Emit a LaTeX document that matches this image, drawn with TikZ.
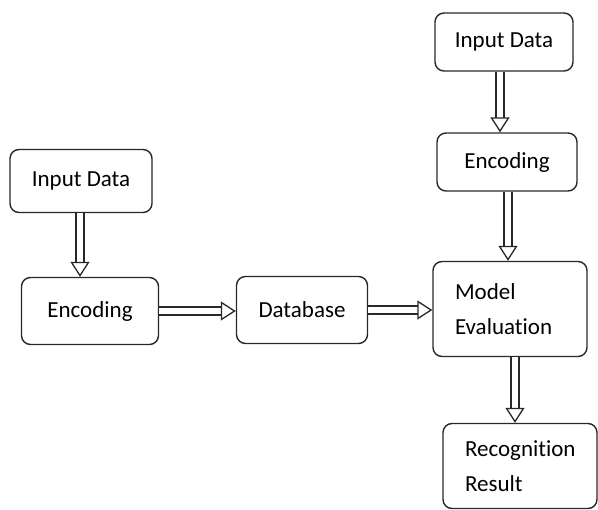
\documentclass[tikz,border=0pt]{standalone}
\usepackage{fontspec}
\setmainfont{Carlito}[Ligatures=NoCommon]
\usepackage{xcolor}
\usepackage{tikz}
\usetikzlibrary{arrows.meta, positioning, calc}
\definecolor{boxline}{RGB}{40,40,40}

\tikzset{
  stagebox/.style={draw=boxline, line width=1.4pt, rounded corners=9pt, fill=white,
    font=\fontsize{23}{35}\selectfont, inner sep=0pt},
  leftbox/.style={stagebox, align=left, text width=#1, inner xsep=22pt},
  harrow/.style={draw=boxline, line width=1.3pt, double=white, double distance=6.5pt,
    -{Triangle[open, length=15pt, width=19pt]}}
}

\begin{document}
\begin{tikzpicture}[x=1pt, y=-1pt]
        \useasboundingbox (0,0) rectangle (598,510);

        % Left branch
        \node[stagebox, minimum width=142pt, minimum height=63pt] (input1) at (81,181) {Input Data};
        \node[stagebox, minimum width=137pt, minimum height=67pt] (encode1) at (90,311) {Encoding};
        \node[stagebox, minimum width=131pt, minimum height=67pt] (database) at (302,310) {Database};

        % Right branch
        \node[stagebox, minimum width=138pt, minimum height=58pt] (input2) at (504,42) {Input Data};
        \node[stagebox, minimum width=140pt, minimum height=58pt] (encode2) at (507,162) {Encoding};
        \node[leftbox=110pt, minimum height=95pt] (model) at (510,309) {Model\\Evaluation};
        \node[leftbox=110pt, minimum height=85pt] (result) at (520,466) {Recognition\\Result};

        % Arrows
        \draw[harrow] ([xshift=-1pt]input1.south) -- ([xshift=-1pt]input1.south |- encode1.north);
        \draw[harrow] (encode1.east) -- (encode1.east -| database.west);
        \draw[harrow] (database.east) -- (database.east -| model.west);
        \draw[harrow] ([xshift=-4pt]input2.south) -- ([xshift=-4pt]input2.south |- encode2.north);
        \draw[harrow] ([xshift=1pt]encode2.south) -- ([xshift=1pt]encode2.south |- model.north);
        \draw[harrow] ([xshift=5pt]model.south) -- ([xshift=5pt]model.south |- result.north);
    \end{tikzpicture}
\end{document}
